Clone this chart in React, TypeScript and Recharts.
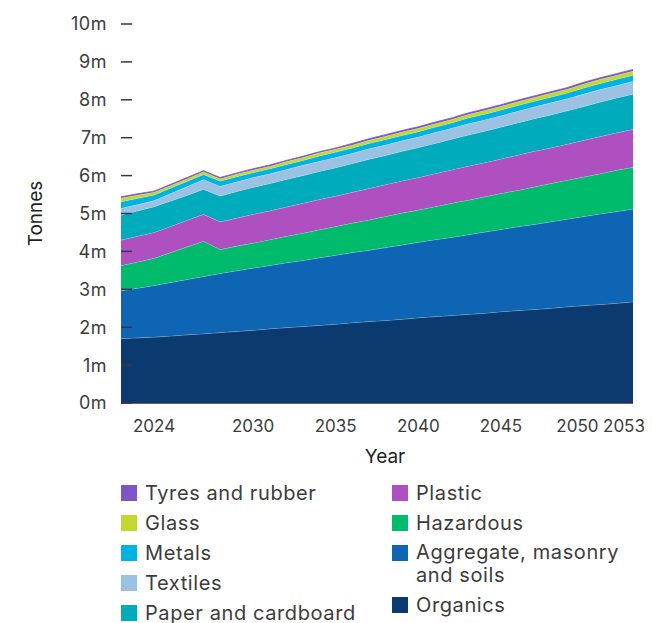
import { Area, AreaChart, XAxis, YAxis } from "recharts";

const years = [
  2022, 2023, 2024, 2025, 2026, 2027, 2028, 2029, 2030, 2031, 2032, 2033, 2034, 2035, 2036, 2037,
  2038, 2039, 2040, 2041, 2042, 2043, 2044, 2045, 2046, 2047, 2048, 2049, 2050, 2051, 2052, 2053,
];

// million tonnes
const organics = [
  1.7, 1.72, 1.74, 1.77, 1.8, 1.83, 1.86, 1.89, 1.92, 1.96, 1.99, 2.02, 2.05, 2.08, 2.12, 2.15,
  2.18, 2.21, 2.25, 2.28, 2.31, 2.34, 2.37, 2.41, 2.44, 2.47, 2.5, 2.54, 2.57, 2.6, 2.63, 2.67,
];
const aggregate = [
  1.26, 1.31, 1.36, 1.41, 1.46, 1.51, 1.56, 1.6, 1.64, 1.67, 1.71, 1.74, 1.78, 1.82, 1.85, 1.88,
  1.92, 1.96, 1.99, 2.03, 2.06, 2.1, 2.14, 2.17, 2.21, 2.24, 2.28, 2.31, 2.35, 2.39, 2.42, 2.45,
];
const hazardous = [
  0.67, 0.69, 0.72, 0.79, 0.86, 0.93, 0.63, 0.65, 0.66, 0.68, 0.7, 0.72, 0.74, 0.76, 0.78, 0.8,
  0.82, 0.84, 0.85, 0.87, 0.9, 0.91, 0.93, 0.95, 0.96, 0.99, 1.01, 1.03, 1.04, 1.06, 1.09, 1.1,
];
const plastic = [
  0.67, 0.68, 0.68, 0.69, 0.7, 0.71, 0.73, 0.74, 0.76, 0.76, 0.77, 0.79, 0.8, 0.8, 0.81, 0.83,
  0.84, 0.85, 0.86, 0.87, 0.88, 0.9, 0.9, 0.91, 0.93, 0.94, 0.94, 0.95, 0.97, 0.98, 0.99, 1.0,
];
const paper = [
  0.66, 0.67, 0.68, 0.67, 0.66, 0.66, 0.68, 0.7, 0.71, 0.72, 0.73, 0.73, 0.74, 0.75, 0.76, 0.77,
  0.77, 0.78, 0.79, 0.8, 0.81, 0.82, 0.83, 0.84, 0.85, 0.86, 0.87, 0.88, 0.89, 0.91, 0.92, 0.93,
];
const textiles = [
  0.18, 0.17, 0.16, 0.2, 0.23, 0.26, 0.26, 0.26, 0.26, 0.26, 0.26, 0.27, 0.27, 0.27, 0.27, 0.28,
  0.28, 0.28, 0.28, 0.29, 0.29, 0.3, 0.3, 0.3, 0.31, 0.31, 0.32, 0.32, 0.33, 0.33, 0.33, 0.34,
];
const metals = [
  0.17, 0.16, 0.15, 0.14, 0.14, 0.13, 0.14, 0.13, 0.13, 0.13, 0.13, 0.13, 0.14, 0.14, 0.14, 0.14,
  0.14, 0.14, 0.14, 0.14, 0.14, 0.15, 0.15, 0.15, 0.15, 0.15, 0.15, 0.15, 0.16, 0.16, 0.16, 0.16,
];
const glass = [
  0.1, 0.09, 0.07, 0.07, 0.07, 0.07, 0.06, 0.07, 0.07, 0.07, 0.08, 0.08, 0.08, 0.08, 0.08, 0.08,
  0.09, 0.09, 0.09, 0.09, 0.09, 0.09, 0.1, 0.1, 0.1, 0.1, 0.1, 0.1, 0.11, 0.11, 0.11, 0.11,
];
const tyres = [
  0.03, 0.03, 0.03, 0.03, 0.03, 0.03, 0.03, 0.03, 0.03, 0.03, 0.03, 0.03, 0.03, 0.03, 0.04, 0.04,
  0.04, 0.04, 0.04, 0.04, 0.04, 0.04, 0.04, 0.04, 0.04, 0.04, 0.04, 0.04, 0.04, 0.04, 0.04, 0.04,
];

const xTicks = [2024, 2030, 2035, 2040, 2045, 2050, 2053];
const yTicks = [0, 1, 2, 3, 4, 5, 6, 7, 8, 9, 10];

const data = years.map((year, i) => ({
  year,
  organics: organics[i],
  aggregate: aggregate[i],
  hazardous: hazardous[i],
  plastic: plastic[i],
  paper: paper[i],
  textiles: textiles[i],
  metals: metals[i],
  glass: glass[i],
  tyres: tyres[i],
}));

// bottom of the stack first
const series = [
  { key: "organics", name: "Organics", color: "#0b3a70" },
  { key: "aggregate", name: "Aggregate, masonry\nand soils", color: "#0d65b4" },
  { key: "hazardous", name: "Hazardous", color: "#00bb6c" },
  { key: "plastic", name: "Plastic", color: "#af50c0" },
  { key: "paper", name: "Paper and cardboard", color: "#00abbb" },
  { key: "textiles", name: "Textiles", color: "#9cc1e2" },
  { key: "metals", name: "Metals", color: "#00b3e3" },
  { key: "glass", name: "Glass", color: "#c3d82e" },
  { key: "tyres", name: "Tyres and rubber", color: "#7c56c4" },
];

const legendLeft = ["tyres", "glass", "metals", "textiles", "paper"];
const legendRight = ["plastic", "hazardous", "aggregate", "organics"];

const font = "Inter, 'Noto Sans', sans-serif";
const textColor = "#3c3c3c";

function YTick({ x, y, payload }: any) {
  return (
    <g>
      <text
        x={x}
        y={y}
        dy="0.36em"
        textAnchor="end"
        fill={textColor}
        fontSize={18}
        fontFamily={font}
        letterSpacing={0.5}
      >
        {`${payload.value}m`}
      </text>
      <line x1={x + 14} x2={x + 25} y1={y} y2={y} stroke="#35345a" strokeWidth={1.5} />
    </g>
  );
}

function XTick({ x, y, payload }: any) {
  // last labels pulled in so they fit inside the right edge
  const shift = payload.value === 2053 ? -9 : payload.value === 2050 ? -6 : 0;
  return (
    <text
      x={x + shift}
      y={y}
      dy="0.71em"
      textAnchor="middle"
      fill={textColor}
      fontSize={17}
      fontFamily={font}
    >
      {payload.value}
    </text>
  );
}

function LegendColumn({ keys }: { keys: string[] }) {
  return (
    <div style={{ display: "flex", flexDirection: "column" }}>
      {keys.map((k) => {
        const s = series.find((d) => d.key === k)!;
        const twoLines = s.name.includes("\n");
        return (
          <div
            key={k}
            style={{
              display: "flex",
              alignItems: "flex-start",
              height: twoLines ? 52 : 30,
              paddingTop: twoLines ? 3 : 0,
              boxSizing: "border-box",
            }}
          >
            <span
              style={{
                width: 16,
                height: 16,
                background: s.color,
                marginTop: twoLines ? 4 : 7,
                marginRight: 8,
                flexShrink: 0,
              }}
            />
            <span style={{ whiteSpace: "pre-line", lineHeight: twoLines ? "23px" : "30px" }}>{s.name}</span>
          </div>
        );
      })}
    </div>
  );
}

export default function App() {
  return (
    <div style={{ position: "relative", width: 643, height: 615, fontFamily: font }}>
      <AreaChart width={643} height={465} data={data} margin={{ top: 16, right: 18, left: 0, bottom: 0 }}>
        {series.map((s) => (
          <Area
            key={s.key}
            type="linear"
            dataKey={s.key}
            name={s.name}
            stackId="waste"
            fill={s.color}
            fillOpacity={1}
            stroke={s.key === "tyres" ? s.color : "#ffffff"}
            strokeOpacity={s.key === "tyres" ? 1 : 0.55}
            strokeWidth={0.8}
            isAnimationActive={false}
          />
        ))}
        <XAxis
          dataKey="year"
          type="number"
          domain={[2022, 2053]}
          ticks={xTicks}
          height={70}
          tickLine={false}
          tickMargin={11}
          axisLine={{ stroke: "#2e2b58", strokeWidth: 1.5 }}
          tick={<XTick />}
          label={{ value: "Year", position: "insideBottom", offset: 10, dx: 8, fill: "#1f1f1f", fontSize: 19, fontFamily: font }}
        />
        <YAxis
          type="number"
          domain={[0, 10]}
          ticks={yTicks}
          width={113}
          axisLine={false}
          tickLine={false}
          tickSize={0}
          tickMargin={14}
          tick={<YTick />}
          label={{
            value: "Tonnes",
            angle: -90,
            position: "insideLeft",
            offset: 27,
            fill: "#1f1f1f",
            fontSize: 19,
            fontFamily: font,
            style: { textAnchor: "middle" },
          }}
        />
      </AreaChart>
      <div
        style={{
          position: "absolute",
          top: 470,
          left: 113,
          display: "flex",
          fontSize: 20,
          letterSpacing: 0.6,
          color: textColor,
        }}
      >
        <div style={{ width: 271 }}>
          <LegendColumn keys={legendLeft} />
        </div>
        <LegendColumn keys={legendRight} />
      </div>
    </div>
  );
}
